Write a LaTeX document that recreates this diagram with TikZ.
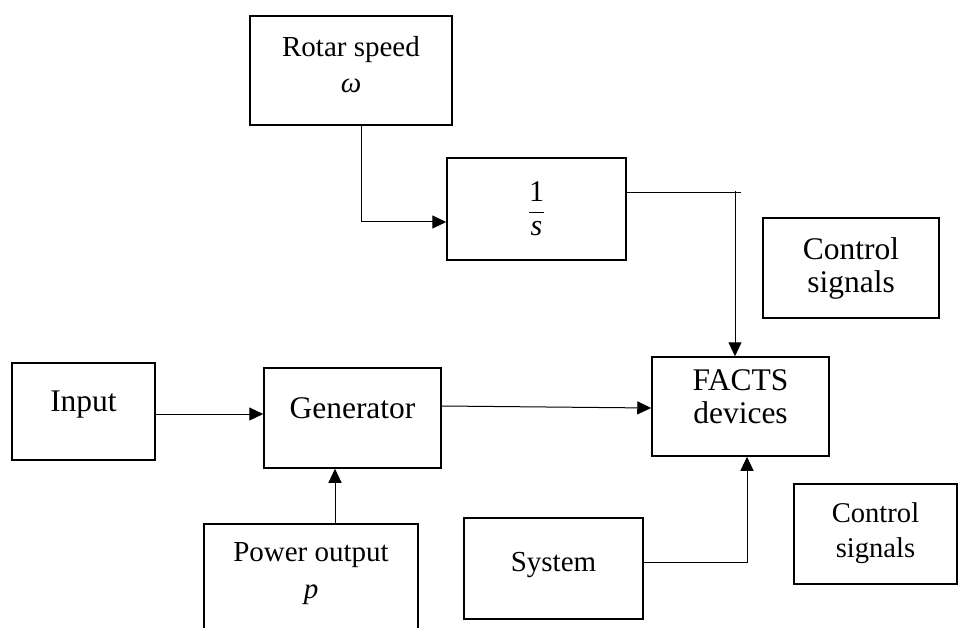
\documentclass[tikz,border=0pt]{standalone}
\usepackage{amsmath}
\usepackage{fontspec}
\setmainfont{Liberation Serif}
\usetikzlibrary{arrows.meta, positioning}
\newcommand{\textdrop}[1]{\rule[-#1]{0pt}{#1}}

\begin{document}
\begin{tikzpicture}[x=1pt, y=-1pt,
    block/.style={draw, line width=1.5pt, inner sep=0pt, align=center,
                  font=\fontsize{31.5}{34}\selectfont},
    smallblock/.style={block, font=\fontsize{29}{36}\selectfont},
    arrow/.style={-{Triangle[length=14pt, width=13pt]}, line width=1pt},
]
\clip (0,0) rectangle (960,628);
\fill[white] (0,0) rectangle (960,628);

\node[smallblock, minimum width=202pt, minimum height=109pt] (rotor) at (351,70.5) {Rotar speed\\\textit{ω}\textdrop{13pt}};
\node[block, minimum width=179pt, minimum height=102pt, font=\fontsize{30}{34}\selectfont] (integ) at (536.5,209) {$\dfrac{\text{1}}{\text{\itshape s}}$};
\node[block, minimum width=176pt, minimum height=100pt, font=\fontsize{31.5}{33}\selectfont] (ctrlA) at (851,268) {Control\\signals};

\node[block, minimum width=143pt, minimum height=97pt] (input) at (83.5,411.5) {Input\textdrop{20pt}};
\node[block, minimum width=177pt, minimum height=100pt] (gen) at (352.5,418) {Generator\textdrop{20pt}};
\node[block, minimum width=177pt, minimum height=99pt, font=\fontsize{31.5}{33}\selectfont] (facts) at (740.5,406.5) {FACTS\\devices\textdrop{19pt}};

\node[smallblock, minimum width=214pt, minimum height=108pt] (power) at (311,578) {Power output\\\textit{p}\textdrop{15pt}};
\node[smallblock, minimum width=179pt, minimum height=101pt] (system) at (553.5,568.5) {System\textdrop{13pt}};
\node[smallblock, minimum width=163pt, minimum height=100pt, font=\fontsize{28.6}{35}\selectfont] (ctrlB) at (875.5,534) {Control\\signals\textdrop{8pt}};

\coordinate (tapE) at (741,193);
\coordinate (tapN) at (735,191);

\draw[arrow] ([xshift=10pt]rotor.south) |- ([yshift=-13pt]integ.west);
\draw[line width=1pt] (integ.east |- tapE) -- (tapE);
\draw[arrow] (tapN) -- (tapN |- facts.north);
\draw[arrow] ([yshift=-2.5pt]input.east) -- ([yshift=-2.5pt]input.east -| gen.west);
\draw[arrow] ([yshift=12pt]gen.east) -- ([yshift=-1.5pt]facts.west);
\draw[arrow] ([xshift=24pt]power.north) -- ([xshift=24pt]power.north |- gen.south);
\draw[arrow] ([yshift=6.5pt]system.east) -| ([xshift=6.5pt]facts.south);
\end{tikzpicture}
\end{document}
